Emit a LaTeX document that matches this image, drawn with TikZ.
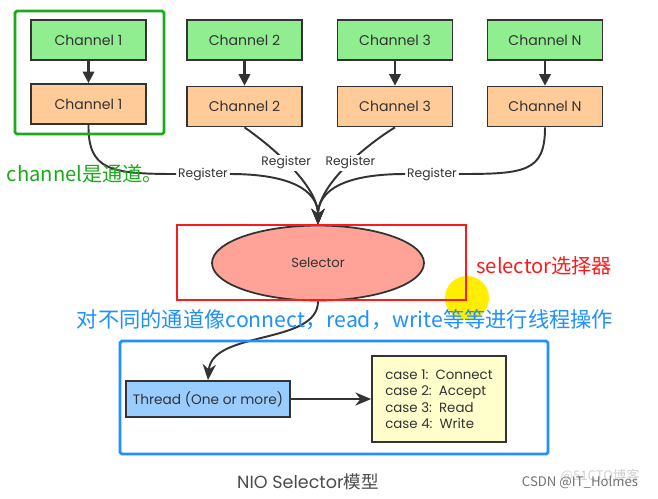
\documentclass[tikz,border=0pt]{standalone}
\usepackage{fontspec}
\setmainfont{Poppins}
\newfontfamily\cjk{Noto Sans CJK SC}
\usetikzlibrary{arrows.meta,shapes.geometric}
\definecolor{chgreen}{HTML}{90EE90}
\definecolor{chorange}{HTML}{FFCC99}
\definecolor{thblue}{HTML}{99CCFF}
\definecolor{caseyellow}{HTML}{FFFFCC}
\definecolor{selred}{HTML}{FFA398}
\definecolor{linegray}{HTML}{333333}
\definecolor{markgreen}{HTML}{1AAA1A}
\definecolor{markblue}{HTML}{1E90FF}
\definecolor{markred}{HTML}{FF1A1A}
\definecolor{cursor}{HTML}{FFEE00}
\begin{document}
\begin{tikzpicture}[
    x=0.02cm, y=-0.02cm,
    chan/.style={draw=linegray, line width=1pt, fill=chgreen, minimum width=2.3cm,
                 minimum height=0.8cm, text=linegray, font=\fontsize{8}{9}\selectfont},
    buf/.style={chan, fill=chorange},
    lbl/.style={fill=white, inner sep=1pt, text=linegray, font=\fontsize{7}{8}\selectfont},
    arr/.style={-{Triangle[length=6.5pt,width=6.5pt]}, line width=1.2pt, draw=linegray},
    bigarr/.style={-{Stealth[length=9pt,width=7.5pt]}, line width=1.1pt, draw=linegray},
    reg/.style={line width=1.1pt, draw=linegray},
    markbox/.style={line width=1.6pt, rounded corners=1pt},
    note/.style={inner sep=0pt, font=\cjk\fontsize{11.5}{13}\selectfont}
  ]
    \useasboundingbox (0,0) rectangle (658,498);
    \fill[white] (0,0) rectangle (658,498);
    \fill[cursor] (467,298) circle (0.44cm);

    % channels
    \node[chan] (c1) at (88.5,40)  {Channel 1};
    \node[buf]  (b1) at (88.5,104) {Channel 1};
    \node[chan] (c2) at (244.5,40) {Channel 2};
    \node[buf]  (b2) at (244.5,106.5) {Channel 2};
    \node[chan] (c3) at (395,40)   {Channel 3};
    \node[buf]  (b3) at (395,106.5) {Channel 3};
    \node[chan] (cN) at (545,40)   {Channel N};
    \node[buf]  (bN) at (545,106.5) {Channel N};
    \foreach \i in {1,2,3,N}
      \draw[arr] (c\i) -- (b\i);

    \node[ellipse, draw=linegray, line width=1pt, fill=selred, minimum width=4.24cm,
          minimum height=1.5cm, text=linegray, font=\fontsize{7.5}{9}\selectfont]
          (sel) at (318,263) {Selector};

    % register
    \node[lbl] (r1) at (203,174) {Register};
    \node[lbl] (rN) at (432,174) {Register};
    \draw[reg] (b1.south) .. controls (88,170) and (110,174) .. (r1.west);
    \draw[bigarr] (r1.east) .. controls (290,174) and (318,190) .. (sel.north);
    \draw[reg] (bN.south) .. controls (545,172) and (525,174) .. (rN.east);
    \draw[bigarr] (rN.west) .. controls (345,174) and (318,190) .. (sel.north);
    \draw[bigarr] (b2.south) .. controls (270,145) and (318,185) .. (sel.north)
      node[lbl,pos=0.45] {Register};
    \draw[bigarr] (b3.south) .. controls (366,145) and (318,185) .. (sel.north)
      node[lbl,pos=0.45] {Register};

    % thread
    \node[draw=linegray, line width=1pt, fill=thblue, minimum width=3.28cm,
          minimum height=0.72cm, text=linegray, font=\fontsize{7.8}{9}\selectfont]
          (thr) at (208,399) {Thread (One or more)};
    \node[draw=linegray, line width=1pt, fill=caseyellow, minimum width=2.68cm,
          minimum height=1.72cm, align=left, text=linegray, font=\fontsize{7.6}{9.4}\selectfont]
          (cases) at (439,399) {case 1:~~Connect\\case 2:~~Accept\\case 3:~~Read\\case 4:~~Write};
    \draw[bigarr] (sel.south) .. controls (318,345) and (212,330) .. (thr.north);
    \draw[bigarr] (thr.east) -- (cases.west);

    % marks
    \draw[markbox, markgreen] (15,11) rectangle (164,134);
    \draw[markred, line width=1.2pt] (177,225) rectangle (466,300);
    \draw[markbox, markblue] (120,341) rectangle (548,454);
    \node[note, text=markgreen] (n1) at (85,174) {channel是通道。};
    \node[note, text=markred, anchor=west] (n2) at (476,266) {selector选择器};
    \node[note, text=markblue, font=\cjk\fontsize{12.1}{13}\selectfont] (n3) at (345,320)
      {对不同的通道像connect，read，write等等进行线程操作};

    \node[text=black!70, font=\fontsize{10}{12}\selectfont] (cap) at (308,482) {NIO Selector{\cjk 模型}};
    \node[text=black!18, font=\cjk\fontsize{7.5}{9}\selectfont] (wm1) at (600,476) {@51CTO博客};
    \node[text=black!55, font=\cjk\fontsize{7.5}{9}\selectfont] (wm2) at (580,482) {CSDN @IT\_Holmes};
  \end{tikzpicture}
\end{document}
